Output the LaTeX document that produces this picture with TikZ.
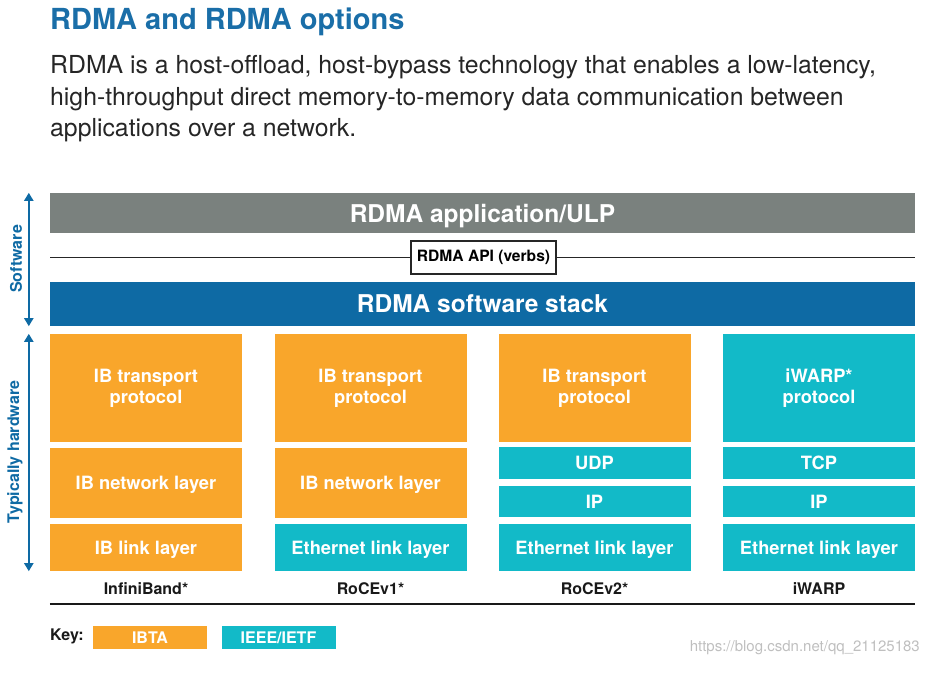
\documentclass[tikz,border=0pt]{standalone}
\usepackage{fontspec}
\setmainfont{TeX Gyre Heros}
\usetikzlibrary{arrows.meta}
\definecolor{ibta}{HTML}{F9A62B}
\definecolor{ietf}{HTML}{12BAC8}
\definecolor{ulpgray}{HTML}{7A817E}
\definecolor{stackblue}{HTML}{0E6AA4}
\definecolor{titleblue}{HTML}{1A6EA8}

\begin{document}
\begin{tikzpicture}[x=1pt, y=-1pt,
    every node/.style={inner sep=0pt},
    layer/.style={rectangle, minimum width=192pt, text=white, align=center, font=\fontsize{18.3}{21}\selectfont\bfseries},
    flat/.style={text depth=0pt},
    ib/.style={layer, fill=ibta},
    eth/.style={layer, fill=ietf},
    bar/.style={rectangle, minimum width=865pt, text=white, text depth=0pt, font=\fontsize{24.5}{28}\selectfont\bfseries},
    span/.style={line width=2pt, draw=stackblue, {Triangle[width=9pt,length=8pt]}-{Triangle[width=9pt,length=8pt]}},
    side/.style={rotate=90, text=stackblue, font=\fontsize{16}{18}\selectfont\bfseries},
    stackname/.style={text=black!90, font=\fontsize{16}{18}\selectfont\bfseries},
    keybox/.style={rectangle, minimum width=114pt, minimum height=23pt, text=white, font=\fontsize{16}{18}\selectfont\bfseries},
    body/.style={anchor=base west, text=black!85, font=\fontsize{24.8}{29}\selectfont}
  ]
  \useasboundingbox (0,0) rectangle (929,672);

  % heading
  \node[anchor=base west, text=titleblue, font=\fontsize{29}{34}\selectfont\bfseries] (title) at (50,29) {RDMA and RDMA options};
  \node[body] (line1) at (50,73) {RDMA is a host-offload, host-bypass technology that enables a low-latency,};
  \node[body] (line2) at (50,105) {high-throughput direct memory-to-memory data communication between};
  \node[body] (line3) at (50,136) {applications over a network.};

  % software part
  \node[bar, fill=ulpgray, minimum height=40pt] (app) at (482.5,213) {RDMA application/ULP};
  \node[bar, fill=stackblue, minimum height=44pt] (stack) at (482.5,304) {RDMA software stack};
  \node[rectangle, draw=black!85, line width=1.2pt, fill=white, minimum width=145pt, minimum height=33pt, font=\fontsize{15.6}{18}\selectfont\bfseries] (api) at (483.5,257.5) {RDMA API (verbs)};
  \draw[line width=1.5pt, black!85] (api.west) -- (api.west -| app.west);
  \draw[line width=1.5pt, black!85] (api.east) -- (api.east -| app.east);

  % InfiniBand
  \node[ib, minimum height=108pt] (tp1) at (146,388) {IB transport\\protocol};
  \node[ib, flat, minimum height=70pt] (net1) at (146,483) {IB network layer};
  \node[ib, flat, minimum height=47pt] (link1) at (146,547.5) {IB link layer};
  % RoCEv1
  \node[ib, minimum height=108pt] (tp2) at (370.5,388) {IB transport\\protocol};
  \node[ib, flat, minimum height=70pt] (net2) at (370.5,483) {IB network layer};
  \node[eth, flat, minimum height=47pt] (link2) at (370.5,547.5) {Ethernet link layer};
  % RoCEv2
  \node[ib, minimum height=108pt] (tp3) at (594.5,388) {IB transport\\protocol};
  \node[eth, flat, minimum height=32pt] (udp3) at (594.5,463) {UDP};
  \node[eth, flat, minimum height=31pt] (ip3) at (594.5,501.5) {IP};
  \node[eth, flat, minimum height=47pt] (link3) at (594.5,547.5) {Ethernet link layer};
  % iWARP
  \node[eth, minimum height=108pt] (tp4) at (819,388) {iWARP*\\protocol};
  \node[eth, flat, minimum height=32pt] (tcp4) at (819,463) {TCP};
  \node[eth, flat, minimum height=31pt] (ip4) at (819,501.5) {IP};
  \node[eth, flat, minimum height=47pt] (link4) at (819,547.5) {Ethernet link layer};

  \node[stackname] (infiniband) at (146,589) {InfiniBand*};
  \node[stackname] (rocev1) at (370.5,589) {RoCEv1*};
  \node[stackname] (rocev2) at (594.5,589) {RoCEv2*};
  \node[stackname] (iwarp) at (819,589) {iWARP};
  \draw[line width=2.5pt, black!90] (link1.south west |- 0,604) -- (link4.south east |- 0,604);

  % side arrows
  \draw[span] ([xshift=-21pt]app.north west) -- ([xshift=-21pt]stack.south west);
  \draw[span] ([xshift=-21pt]tp1.north west) -- ([xshift=-21pt]link1.south west);
  \node[side] (sw) at (16,259) {Software};
  \node[side] (hw) at (15,452) {Typically hardware};

  % key
  \node[anchor=west, stackname] (key) at (50,636) {Key:};
  \node[keybox, fill=ibta] (keyib) at (150,637.5) {IBTA};
  \node[keybox, fill=ietf] (keyeth) at (278.5,637.5) {IEEE/IETF};

  \node[anchor=east, text=black!25, font=\fontsize{15}{17}\selectfont] (mark) at (920,648) {https://blog.csdn.net/qq\_21125183};
\end{tikzpicture}
\end{document}
